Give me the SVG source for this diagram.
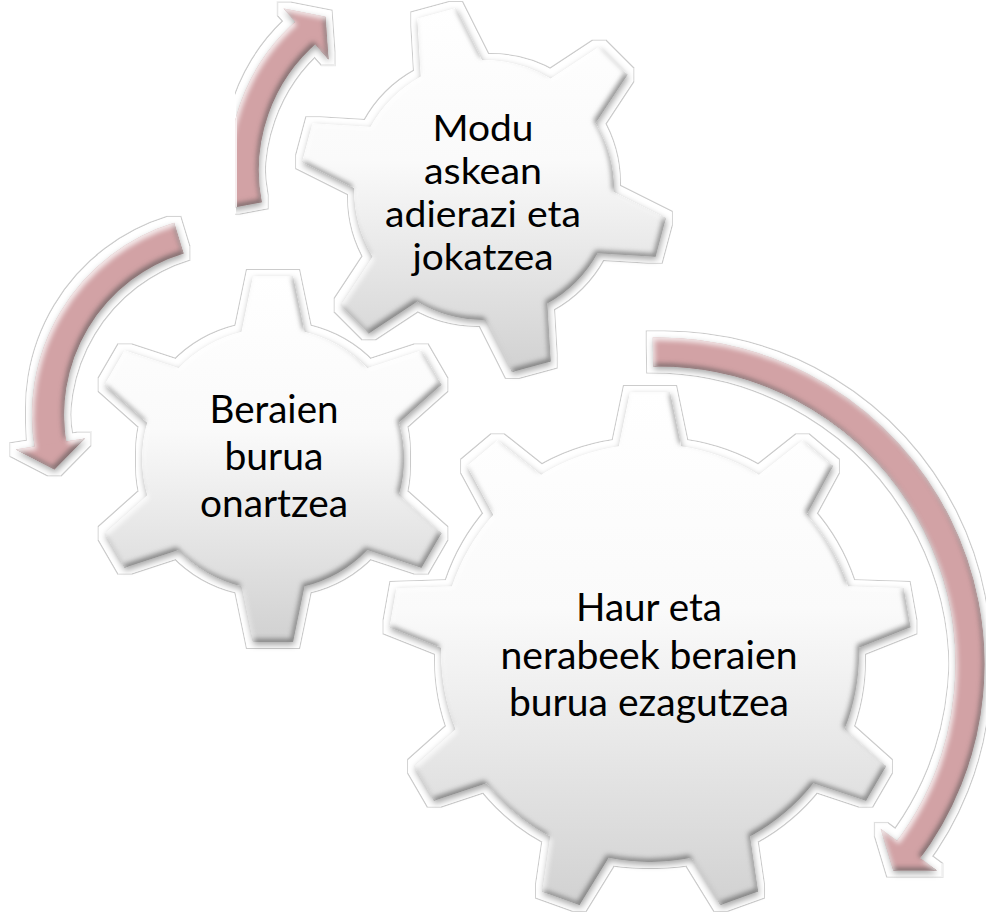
<svg xmlns="http://www.w3.org/2000/svg" width="986" height="912" viewBox="0 0 986 912">
<style>
  .lbl { font-family: Lato, "Open Sans", "Liberation Sans", sans-serif; font-size: 38px; fill: #000; text-anchor: middle; }
  .sm { font-size: 36px; }
  .body { fill: none; stroke: #d2a2a5; stroke-linecap: butt; }
  .head { fill: #d2a2a5; }
</style>
<defs>
  <linearGradient id="gearGrad" x1="0" y1="0" x2="0" y2="1">
    <stop offset="0" stop-color="#ffffff"/>
    <stop offset="0.42" stop-color="#fafafa"/>
    <stop offset="1" stop-color="#d0d0d0"/>
  </linearGradient>
  <polygon id="tS" points="-20,-183 20,-183 33,-120 -33,-120"/>
  <polygon id="tB" points="-20,-261 20,-261 33,-198 -33,-198"/>
  <clipPath id="cS">
    <circle cx="273" cy="459" r="131"/>
    <use href="#tS" transform="translate(273,459) rotate(0)"/>
    <use href="#tS" transform="translate(273,459) rotate(60)"/>
    <use href="#tS" transform="translate(273,459) rotate(120)"/>
    <use href="#tS" transform="translate(273,459) rotate(180)"/>
    <use href="#tS" transform="translate(273,459) rotate(240)"/>
    <use href="#tS" transform="translate(273,459) rotate(300)"/>
  </clipPath>
  <clipPath id="cM">
    <circle cx="484" cy="190" r="130"/>
    <use href="#tS" transform="translate(484,190) rotate(-15)"/>
    <use href="#tS" transform="translate(484,190) rotate(45)"/>
    <use href="#tS" transform="translate(484,190) rotate(105)"/>
    <use href="#tS" transform="translate(484,190) rotate(165)"/>
    <use href="#tS" transform="translate(484,190) rotate(225)"/>
    <use href="#tS" transform="translate(484,190) rotate(285)"/>
  </clipPath>
  <clipPath id="cB">
    <circle cx="650" cy="653" r="209"/>
    <use href="#tB" transform="translate(650,653) rotate(0)"/>
    <use href="#tB" transform="translate(650,653) rotate(40)"/>
    <use href="#tB" transform="translate(650,653) rotate(80)"/>
    <use href="#tB" transform="translate(650,653) rotate(120)"/>
    <use href="#tB" transform="translate(650,653) rotate(160)"/>
    <use href="#tB" transform="translate(650,653) rotate(200)"/>
    <use href="#tB" transform="translate(650,653) rotate(240)"/>
    <use href="#tB" transform="translate(650,653) rotate(280)"/>
    <use href="#tB" transform="translate(650,653) rotate(320)"/>
  </clipPath>
  <filter id="fx" x="-10%" y="-10%" width="120%" height="120%" color-interpolation-filters="sRGB">
    <feMorphology in="SourceAlpha" operator="dilate" radius="6" result="d6"/>
    <feMorphology in="SourceAlpha" operator="dilate" radius="7" result="d7"/>
    <feComposite in="d7" in2="d6" operator="out" result="ring"/>
    <feFlood flood-color="#cccccc"/>
    <feComposite in2="ring" operator="in" result="ringC"/>
    <feFlood flood-color="#ffffff"/>
    <feComposite in2="d6" operator="in" result="whiteC"/>
    <feGaussianBlur in="SourceAlpha" stdDeviation="3" result="sb"/>
    <feOffset in="sb" dx="1" dy="3" result="so"/>
    <feFlood flood-color="#000000" flood-opacity="0.35"/>
    <feComposite in2="so" operator="in" result="shadow"/>
    <feGaussianBlur in="SourceAlpha" stdDeviation="2.5" result="ib"/>
    <feOffset in="ib" dx="-2" dy="-3" result="ibA"/>
    <feComposite in="SourceAlpha" in2="ibA" operator="arithmetic" k2="1" k3="-1" result="edgeD"/>
    <feFlood flood-color="#4a4a4a" flood-opacity="0.6"/>
    <feComposite in2="edgeD" operator="in" result="dark"/>
    <feOffset in="ib" dx="2" dy="3" result="ibB"/>
    <feComposite in="SourceAlpha" in2="ibB" operator="arithmetic" k2="1" k3="-1" result="edgeL"/>
    <feFlood flood-color="#ffffff" flood-opacity="0.8"/>
    <feComposite in2="edgeL" operator="in" result="light"/>
    <feMerge>
      <feMergeNode in="ringC"/>
      <feMergeNode in="whiteC"/>
      <feMergeNode in="shadow"/>
      <feMergeNode in="SourceGraphic"/>
      <feMergeNode in="dark"/>
      <feMergeNode in="light"/>
    </feMerge>
  </filter>
</defs>

<rect width="986" height="912" fill="#ffffff"/>

<g id="gear-beraien">
  <g filter="url(#fx)">
    <rect x="86" y="272" width="374" height="374" fill="url(#gearGrad)" clip-path="url(#cS)"/>
  </g>
  <text class="lbl" x="274" y="423" textLength="129" lengthAdjust="spacingAndGlyphs">Beraien</text>
  <text class="lbl" x="274" y="470" textLength="99" lengthAdjust="spacingAndGlyphs">burua</text>
  <text class="lbl" x="274" y="517" textLength="148" lengthAdjust="spacingAndGlyphs">onartzea</text>
</g>

<g id="gear-modu">
  <g filter="url(#fx)">
    <rect x="297" y="3" width="374" height="374" fill="url(#gearGrad)" clip-path="url(#cM)"/>
  </g>
  <text class="lbl sm" x="483" y="141" textLength="101" lengthAdjust="spacingAndGlyphs">Modu</text>
  <text class="lbl sm" x="483" y="184" textLength="118" lengthAdjust="spacingAndGlyphs">askean</text>
  <text class="lbl sm" x="483" y="227" textLength="196" lengthAdjust="spacingAndGlyphs">adierazi eta</text>
  <text class="lbl sm" x="483" y="270" textLength="141" lengthAdjust="spacingAndGlyphs">jokatzea</text>
</g>

<g id="gear-haur">
  <g filter="url(#fx)">
    <rect x="387" y="390" width="526" height="526" fill="url(#gearGrad)" clip-path="url(#cB)"/>
  </g>
  <text class="lbl" x="649" y="621" textLength="146" lengthAdjust="spacingAndGlyphs">Haur eta</text>
  <text class="lbl" x="649" y="669" textLength="297" lengthAdjust="spacingAndGlyphs">nerabeek beraien</text>
  <text class="lbl" x="649" y="716" textLength="280" lengthAdjust="spacingAndGlyphs">burua ezagutzea</text>
</g>

<g id="connectors">
  <g id="arrow-up" filter="url(#fx)">
    <path class="body" stroke-width="30" d="M247,205 A184,184 0 0 1 308.7,30"/>
    <polygon class="head" points="283.5,8.5 325.5,16.8 328.5,59.5"/>
  </g>
  <g id="arrow-left" filter="url(#fx)">
    <path class="body" stroke-width="32" d="M178.9,238.1 A185,185 0 0 0 51.4,450.3"/>
    <polygon class="head" points="15.7,449.4 54.4,469.6 84.9,438.4"/>
  </g>
  <g id="arrow-right" filter="url(#fx)">
    <path class="body" stroke-width="29" d="M653,352 A312,312 0 0 1 905.5,853.9"/>
    <polygon class="head" points="880.7,828.8 893.3,870.5 936.9,870.4"/>
  </g>
</g>
</svg>
